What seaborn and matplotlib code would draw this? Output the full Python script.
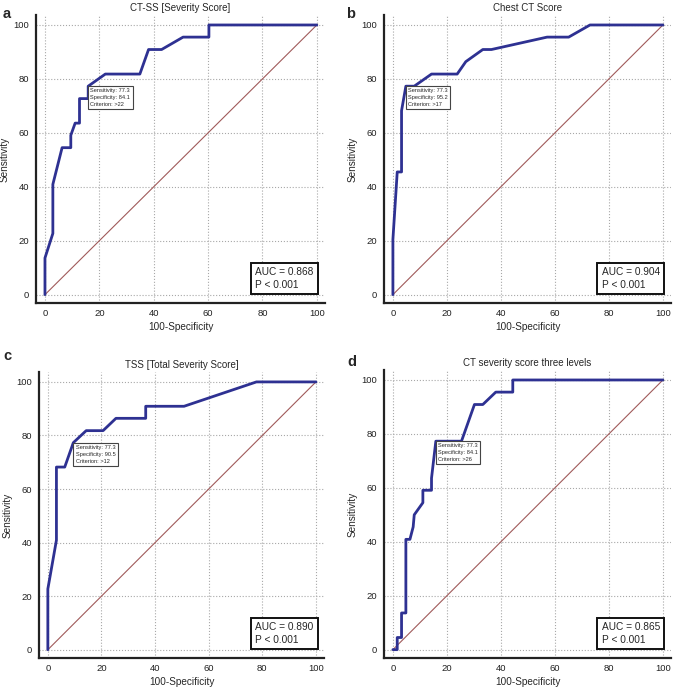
import numpy as np
import pandas as pd
import seaborn as sns
import matplotlib.pyplot as plt
from matplotlib.ticker import MultipleLocator

# ROC points: x = 100-Specificity, y = Sensitivity
fpr_a = [0, 0, 2.9, 2.9, 6.3, 9.5, 9.5, 11.1, 12.7, 12.7, 15.9, 15.9, 22.2, 34.9, 38.1, 42.9, 50.8, 60.3, 60.3, 100]
tpr_a = [0, 13.6, 22.7, 40.9, 54.5, 54.5, 59.1, 63.6, 63.6, 72.7, 72.7, 77.3, 81.8, 81.8, 90.9, 90.9, 95.5, 95.5, 100, 100]

fpr_b = [0, 0, 1.6, 3.2, 3.2, 4.8, 7.9, 14.3, 23.8, 27.0, 33.3, 36.5, 57.1, 65.1, 73.0, 100]
tpr_b = [0, 20.5, 45.5, 45.5, 68.2, 77.3, 77.3, 81.8, 81.8, 86.4, 90.9, 90.9, 95.5, 95.5, 100, 100]

fpr_c = [0, 0, 3.2, 3.2, 6.3, 9.5, 14.3, 20.6, 25.4, 36.5, 36.5, 50.8, 77.8, 100]
tpr_c = [0, 22.7, 40.9, 68.2, 68.2, 77.3, 81.8, 81.8, 86.4, 86.4, 90.9, 90.9, 100, 100]

fpr_d = [0, 1.6, 1.6, 3.2, 3.2, 4.8, 4.8, 6.3, 7.5, 7.9, 11.1, 11.1, 14.3, 14.3, 15.9, 25.4, 30.2, 33.3, 38.1, 44.4, 44.4, 100]
tpr_d = [0, 0, 4.5, 4.5, 13.6, 13.6, 40.9, 40.9, 45.5, 50.0, 54.5, 59.1, 59.1, 63.6, 77.3, 77.3, 90.9, 90.9, 95.5, 95.5, 100, 100]

titles = ["CT-SS [Severity Score]", "Chest CT Score", "TSS [Total Severity Score]", "CT severity score three levels"]
letters = ["a", "b", "c", "d"]
auc = ["0.868", "0.904", "0.890", "0.865"]
sens = [77.3, 77.3, 77.3, 77.3]
spec = [84.1, 95.2, 90.5, 84.1]
crit = [">22", ">17", ">12", ">26"]

sns.set_style('white')
plt.rcParams['font.family'] = ['Liberation Sans', 'DejaVu Sans']

W, H = 676, 691
fig = plt.figure(figsize=(W / 100, H / 100), dpi=100)

# axes boxes in pixels: left, right, top, bottom
boxes = [(36, 325, 15, 303), (384, 671, 15, 303), (39, 324, 372, 658), (384, 671, 370, 658)]
letter_pos = [(3, 18), (346, 18), (3, 360), (347, 366)]
curves = [(fpr_a, tpr_a), (fpr_b, tpr_b), (fpr_c, tpr_c), (fpr_d, tpr_d)]

for i in range(4):
    l, r, t, b = boxes[i]
    ax = fig.add_axes([l / W, 1 - b / H, (r - l) / W, (b - t) / H])
    df = pd.DataFrame({"x": curves[i][0], "y": curves[i][1]})
    diag = pd.DataFrame({"x": [0, 100], "y": [0, 100]})
    sns.lineplot(data=diag, x="x", y="y", ax=ax, color="#a05a5a", lw=0.8, sort=False, estimator=None)
    sns.lineplot(data=df, x="x", y="y", ax=ax, color="#2e3192", lw=2, sort=False, estimator=None)

    ax.set_xlim(-3.3, 103)
    ax.set_ylim(-3.1, 103.7)
    ax.xaxis.set_major_locator(MultipleLocator(20))
    ax.yaxis.set_major_locator(MultipleLocator(20))
    ax.xaxis.set_minor_locator(MultipleLocator(5))
    ax.yaxis.set_minor_locator(MultipleLocator(5))
    ax.grid(True, which='major', ls=':', color='#a8a8a8', lw=0.8)
    ax.set_axisbelow(True)
    for s in ['top', 'right']:
        ax.spines[s].set_visible(False)
    for s in ['left', 'bottom']:
        ax.spines[s].set_linewidth(1.6)
        ax.spines[s].set_color('#222222')
    ax.tick_params(which='major', direction='in', length=6, width=1.4, labelsize=6.8, colors='#222222', pad=4)
    ax.tick_params(which='minor', direction='in', length=3.5, width=1.0, colors='#222222')
    ax.tick_params(axis='y', pad=5)
    ax.set_xlabel("100-Specificity", fontsize=7.2, labelpad=3)
    ax.set_ylabel("Sensitivity", fontsize=7.2)
    ax.yaxis.set_label_coords((l - 26) / W, 1 - (t + b) / 2 / H, transform=fig.transFigure)
    ax.set_title(titles[i], fontsize=7, pad=3)

    ax.annotate(f"Sensitivity: {sens[i]}\nSpecificity: {spec[i]}\nCriterion: {crit[i]}",
                xy=(100 - spec[i], sens[i]), xytext=(1.6, -1.6), textcoords='offset points',
                ha='left', va='top', fontsize=4.1, linespacing=1.45, zorder=5,
                bbox=dict(boxstyle='square,pad=0.4', fc='white', ec='#444444', lw=0.8))
    ax.text(77.3, 1.8, f"AUC = {auc[i]}\nP < 0.001",
            ha='left', va='bottom', fontsize=7.3, linespacing=1.35, zorder=5,
            bbox=dict(boxstyle='square,pad=0.42', fc='white', ec='#111111', lw=1.4))

    fig.text(letter_pos[i][0] / W, 1 - letter_pos[i][1] / H, letters[i],
             fontsize=10.5, fontweight='bold', va='baseline', ha='left')

plt.savefig("out.png", dpi=100)
